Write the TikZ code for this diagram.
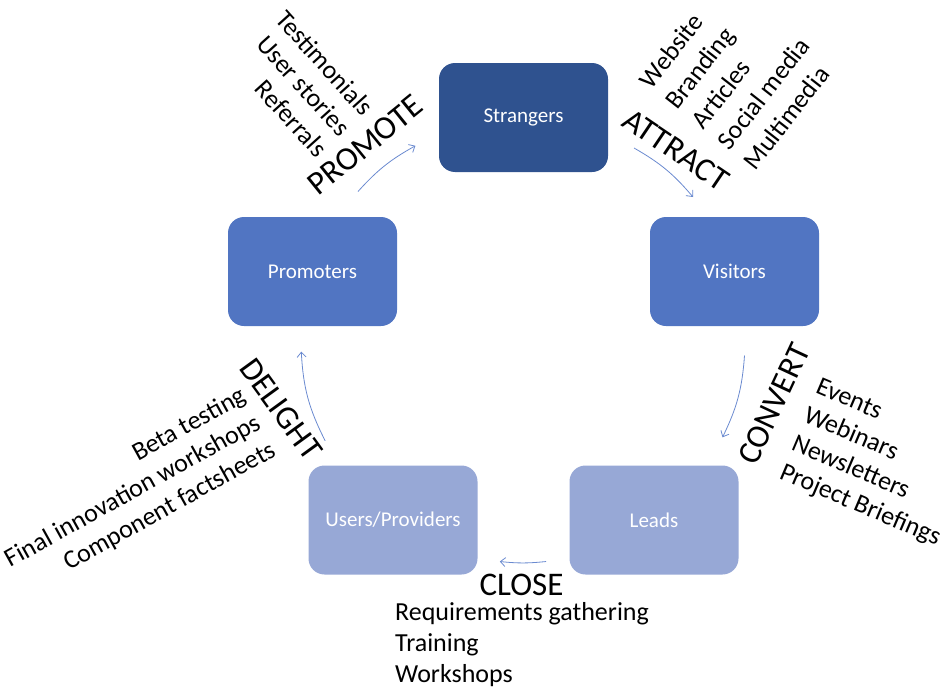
\documentclass[tikz,border=0pt]{standalone}
\usepackage{fontspec}
\setmainfont{Carlito}
\usetikzlibrary{arrows.meta}
\definecolor{darkstage}{HTML}{2F528F}
\definecolor{midstage}{HTML}{5175C2}
\definecolor{lightstage}{HTML}{97A8D6}
\definecolor{flowblue}{HTML}{6A8AD0}

\begin{document}
\begin{tikzpicture}[x=1pt,y=1pt,
  stage/.style={rounded corners=16pt, minimum width=169pt, minimum height=109pt, text=white, font=\fontsize{21}{25}\selectfont},
  phase/.style={inner sep=0pt, font=\fontsize{33}{40}\selectfont},
  tactics/.style={inner sep=0pt, font=\fontsize{26}{31}\selectfont},
  flow/.style={draw=flowblue, line width=0.8pt, -{Straight Barb[length=5pt,width=9pt]}}]
\useasboundingbox (0,0) rectangle (940,-688);

% stages
\node[stage, fill=darkstage] (strangers) at (523.5,-117.5) {Strangers};
\node[stage, fill=midstage] (visitors) at (734.5,-271.5) {Visitors};
\node[stage, fill=lightstage] (leads) at (654,-520) {Leads};
\node[stage, fill=lightstage] (users) at (393,-520) {Users/Providers};
\node[stage, fill=midstage] (promoters) at (312.5,-271.5) {Promoters};

% arrow ends
\coordinate (attractS) at (634,-148);
\coordinate (attractE) at (693,-197);
\coordinate (convertS) at (744.5,-355.5);
\coordinate (convertE) at (722.5,-437.3);
\coordinate (closeS) at (546.2,-561.5);
\coordinate (closeE) at (499.8,-561.5);
\coordinate (delightS) at (325.2,-440.8);
\coordinate (delightE) at (301.3,-351.6);
\coordinate (promoteS) at (358,-191.5);
\coordinate (promoteE) at (415.4,-145.8);

\draw[flow] (attractS) to[bend left=10] (attractE);
\draw[flow] (convertS) to[bend left=11] (convertE);
\draw[flow] (closeS) to[bend left=6] (closeE);
\draw[flow] (delightS) to[bend left=12] (delightE);
\draw[flow] (promoteS) to[bend left=9.5] (promoteE);

% phases
\node[phase, rotate=39] (promote) at (365,-145) {PROMOTE};
\node[phase, rotate=-34] (attract) at (676,-150) {ATTRACT};
\node[phase, rotate=65] (convert) at (774,-404) {CONVERT};
\node[phase, rotate=-54] (delight) at (281,-409) {DELIGHT};
\node[phase] (close) at (521.5,-585) {CLOSE};

% tactics
\node[tactics, align=right, rotate=-48, anchor=north east] (promotelist) at (375.6,-105.3) {Testimonials\\User stories\\Referrals};
\node[tactics, align=left, rotate=52, anchor=north west, font=\fontsize{26}{33}\selectfont] (attractlist) at (637,-79) {Website\\Branding\\Articles\\Social media\\Multimedia};
\node[tactics, align=left, rotate=-23, anchor=north west] (convertlist) at (821,-377) {Events\\Webinars\\Newsletters\\Project Briefings};
\node[tactics, align=right, rotate=29, anchor=north east] (delightlist) at (239,-385) {Beta testing\\Final innovation workshops\\Component factsheets};
\node[tactics, align=left, anchor=north west] (closelist) at (395,-602) {Requirements gathering\\Training\\Workshops};
\end{tikzpicture}
\end{document}
